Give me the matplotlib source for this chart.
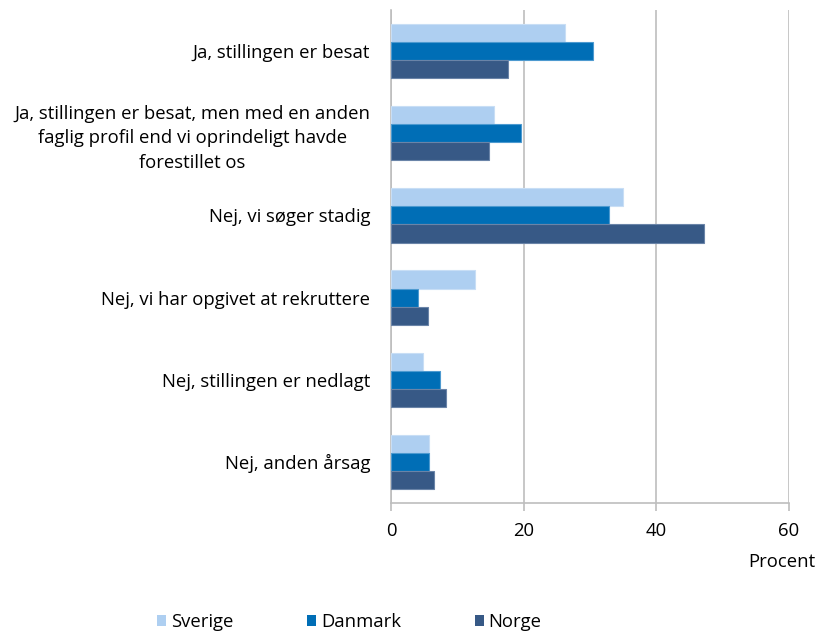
import numpy as np
import matplotlib.pyplot as plt
from matplotlib.patches import Patch

# Data
categories = [
    "Ja, stillingen er besat",
    "Ja, stillingen er besat, men med en anden\nfaglig profil end vi oprindeligt havde\nforestillet os",
    "Nej, vi søger stadig",
    "Nej, vi har opgivet at rekruttere",
    "Nej, stillingen er nedlagt",
    "Nej, anden årsag",
]
sverige = [26.2, 15.5, 35.0, 12.6, 4.8, 5.8]
danmark = [30.5, 19.6, 32.8, 4.0, 7.4, 5.8]
norge = [17.6, 14.8, 47.2, 5.6, 8.3, 6.5]

series_names = ["Sverige", "Danmark", "Norge"]
colors = ["#AECFF1", "#006EB6", "#375986"]
edges = ["#C8DEF5", "#4D9AD0", "#6A84A8"]

plt.rcParams['font.family'] = ['Open Sans', 'DejaVu Sans']
fs = 13.3

fig = plt.figure(figsize=(8.2, 6.33), dpi=100)
ax = fig.add_axes([0.4768, 0.2054, 0.4854, 0.7788])

y = np.arange(len(categories))
bar_h = 0.22
for i, (vals, name) in enumerate(zip([sverige, danmark, norge], series_names)):
    ax.barh(y - bar_h + i * bar_h, vals, height=bar_h, color=colors[i],
            edgecolor=edges[i], linewidth=0.8, label=name, zorder=3)

ax.set_xlim(0, 60)
ax.set_ylim(len(categories) - 0.5, -0.5)
ax.set_xticks([0, 20, 40, 60])
ax.xaxis.grid(True, color="#BEBEBE", linewidth=1.2, zorder=0)
ax.set_axisbelow(True)

ax.set_yticks(y)
ax.set_yticklabels(categories, fontsize=fs, multialignment='center', linespacing=1.45)
ax.tick_params(axis='y', length=0, pad=15)
ax.tick_params(axis='x', length=6, width=1.2, color="#BEBEBE", pad=8, labelsize=fs)

for side in ['top', 'right']:
    ax.spines[side].set_visible(False)
for side in ['left', 'bottom']:
    ax.spines[side].set_color("#BEBEBE")
    ax.spines[side].set_linewidth(1.2)

fig.text(0.994, 0.112, "Procent", ha='right', va='center', fontsize=fs)

handles = [Patch(facecolor=c, edgecolor='none') for c in colors]
fig.legend(handles, series_names, loc='center left', bbox_to_anchor=(0.1915, 0.017),
           ncol=3, frameon=False, fontsize=fs, handlelength=0.5, handleheight=0.5,
           handletextpad=0.25, columnspacing=4.0, borderpad=0, borderaxespad=0)

fig.savefig("out.png", dpi=100)
